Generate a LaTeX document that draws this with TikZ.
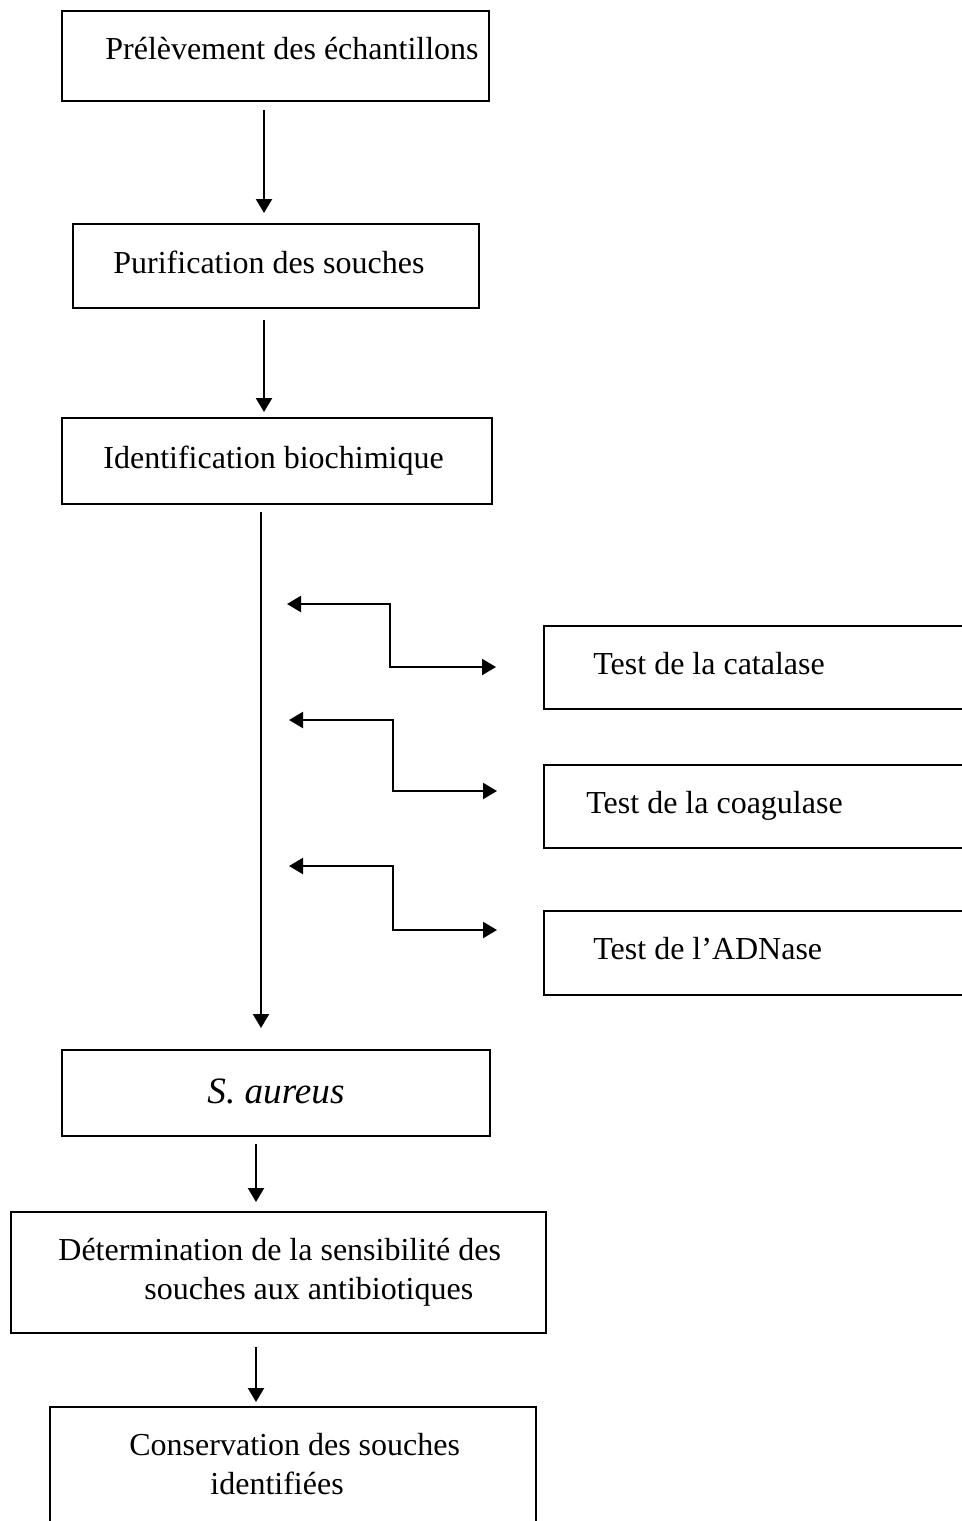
\documentclass[tikz,border=0pt]{standalone}
\usepackage{fontspec}
\setmainfont{Liberation Serif}
\usetikzlibrary{arrows.meta}

\begin{document}
\begin{tikzpicture}[x=0.5pt, y=-0.5pt,
  boite/.style 2 args={draw, line width=0.8pt, inner sep=0pt, outer sep=0pt,
    anchor=north west, minimum width=#1*0.5pt, minimum height=#2*0.5pt},
  texte/.style={anchor=base west, inner sep=0pt, font=\fontsize{16}{19}\selectfont},
  fl/.style={line width=1.1pt, -{Triangle[length=7pt, width=8pt]}},
  dfl/.style={line width=1.1pt, {Triangle[length=7pt, width=8pt]}-{Triangle[length=7pt, width=8pt]}}]
  \useasboundingbox (0,0) rectangle (962,1521);
  \clip (0,0) rectangle (962,1521);

  % Boxes
  \node[boite={427}{90}] (P) at (62,11) {};
  \node[boite={406}{84}] (U) at (73,224) {};
  \node[boite={430}{86}] (I) at (62,418) {};
  \node[boite={440}{83}] (C) at (544,626) {};
  \node[boite={440}{83}] (G) at (544,765) {};
  \node[boite={440}{84}] (D) at (544,911) {};
  \node[boite={428}{86}] (S) at (62,1050) {};
  \node[boite={535}{121}] (A) at (11,1212) {};
  \node[boite={486}{130}] (K) at (50,1407) {};

  % Texts
  \node[texte] (Pt) at (105,59) {Prélèvement des échantillons};
  \node[texte] (Ut) at (113,273) {Purification des souches};
  \node[texte] (It) at (103,468) {Identification biochimique};
  \node[texte] (Ct) at (593,674) {Test de la catalase};
  \node[texte] (Gt) at (586,813) {Test de la coagulase};
  \node[texte] (Dt) at (593,959) {Test de l’ADNase};
  \node[texte, font=\fontsize{18.6}{22}\selectfont\itshape] (St) at (207,1103) {S. aureus};
  \node[texte] (At1) at (58,1260) {Détermination de la sensibilité des};
  \node[texte] (At2) at (144,1299) {souches aux antibiotiques};
  \node[texte] (Kt1) at (129,1455) {Conservation des souches};
  \node[texte] (Kt2) at (210,1494) {identifiées};

  % Axes of the arrows
  \coordinate (x1) at (264,0);
  \coordinate (x2) at (261,0);
  \coordinate (x3) at (256,0);

  % Elbows of the side connectors
  \coordinate (c1) at (390,604); \coordinate (c2) at (390,667);
  \coordinate (g1) at (393,720); \coordinate (g2) at (393,791);
  \coordinate (d1) at (393,866); \coordinate (d2) at (393,930);

  % Main arrows
  \draw[fl, shorten <=4.5pt, shorten >=5.5pt] (P.south -| x1) -- (U.north -| x1);
  \draw[fl, shorten <=6pt, shorten >=3pt] (U.south -| x1) -- (I.north -| x1);
  \draw[fl, shorten <=4pt, shorten >=11pt] (I.south -| x2) -- (S.north -| x2);
  \draw[fl, shorten <=4pt, shorten >=5pt] (S.south -| x3) -- (A.north -| x3);
  \draw[fl, shorten <=7pt, shorten >=2.5pt] (A.south -| x3) -- (K.north -| x3);

  % Side connectors
  \draw[dfl, shorten <=13pt, shorten >=24pt] (x2 |- c1) -- (c1) -- (c2) -- (C.west |- c2);
  \draw[dfl, shorten <=14pt, shorten >=23.5pt] (x2 |- g1) -- (g1) -- (g2) -- (G.west |- g2);
  \draw[dfl, shorten <=14pt, shorten >=23.5pt] (x2 |- d1) -- (d1) -- (d2) -- (D.west |- d2);
\end{tikzpicture}
\end{document}
